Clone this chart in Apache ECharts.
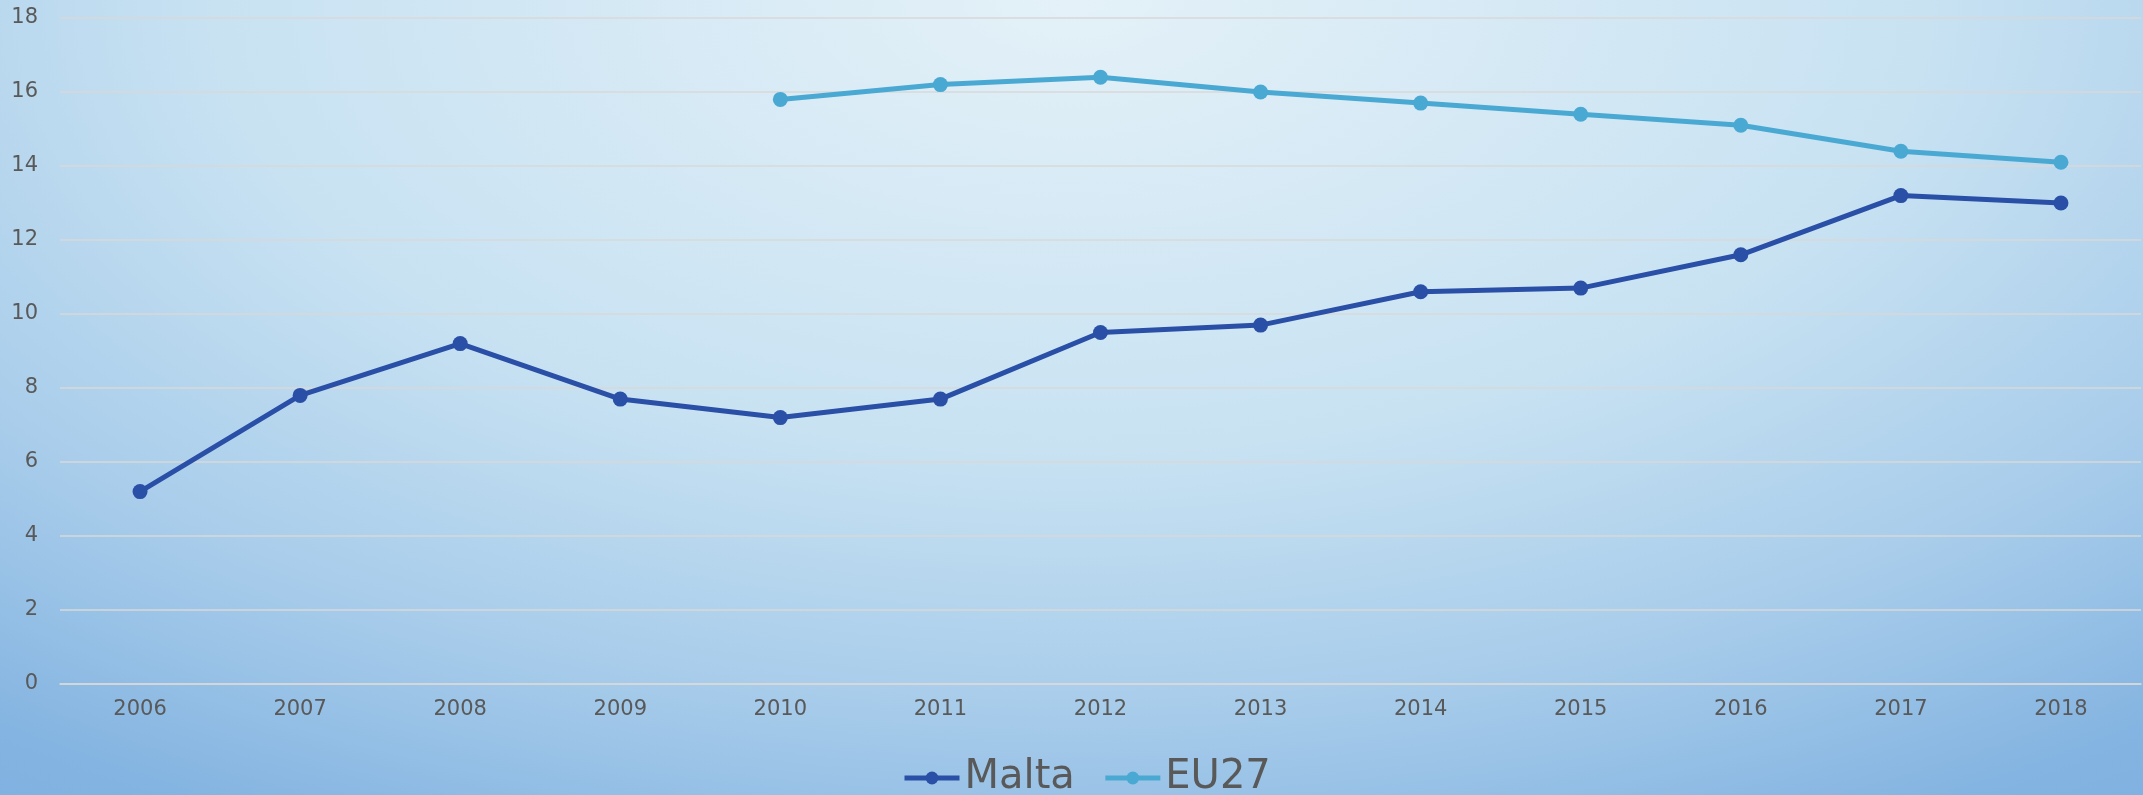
<!DOCTYPE html>
<html>
<head>
<meta charset="utf-8">
<script src="https://cdn.jsdelivr.net/npm/echarts@6/dist/echarts.min.js"></script>
<style>
html,body{margin:0;padding:0;width:2143px;height:795px;overflow:hidden;}
body{background:radial-gradient(ellipse 1900px 1000px at 50% 0%, #e4f1f8 0%, #c8e2f2 45%, #a6cbea 72%, #84b4e1 92%, #7fb0e0 100%);}
#chart{width:2143px;height:795px;}
</style>
</head>
<body>
<div id="chart"></div>
<script>
var years = ['2006','2007','2008','2009','2010','2011','2012','2013','2014','2015','2016','2017','2018'];
var malta = [5.2, 7.8, 9.2, 7.7, 7.2, 7.7, 9.5, 9.7, 10.6, 10.7, 11.6, 13.2, 13.0];
var eu27 = [null, null, null, null, 15.8, 16.2, 16.4, 16.0, 15.7, 15.4, 15.1, 14.4, 14.1];
var seriesNames = ['Malta', 'EU27'];

var chart = echarts.init(document.getElementById('chart'), null, {renderer: 'canvas'});
var font = 'DejaVu Sans';
chart.setOption({
  backgroundColor: 'transparent',
  animation: false,
  textStyle: {fontFamily: font},
  grid: {left: 60, right: 2, top: 18, bottom: 111, containLabel: false},
  legend: {
    data: seriesNames,
    bottom: -8,
    left: 897,
    itemWidth: 55,
    itemHeight: 16,
    itemGap: 28,
    lineStyle: {width: 5},
    textStyle: {fontSize: 40, color: '#595959', fontFamily: font}
  },
  xAxis: {
    type: 'category',
    data: years,
    boundaryGap: true,
    axisLine: {show: true, lineStyle: {color: '#d9d9d9', width: 1.5}},
    axisTick: {show: false},
    axisLabel: {fontSize: 21, color: '#595959', margin: 15, fontFamily: font}
  },
  yAxis: {
    type: 'value',
    min: 0,
    max: 18,
    interval: 2,
    axisLine: {show: false},
    axisTick: {show: false},
    axisLabel: {fontSize: 21, color: '#595959', margin: 22, fontFamily: font},
    splitLine: {lineStyle: {color: '#d9d9d9', width: 1.5}}
  },
  series: [
    {
      name: seriesNames[0],
      type: 'line',
      data: malta,
      symbol: 'circle',
      symbolSize: 15,
      lineStyle: {color: '#2a4fa6', width: 5},
      itemStyle: {color: '#2a4fa6'}
    },
    {
      name: seriesNames[1],
      type: 'line',
      data: eu27,
      connectNulls: false,
      symbol: 'circle',
      symbolSize: 15,
      lineStyle: {color: '#4aa9d3', width: 5},
      itemStyle: {color: '#4aa9d3'}
    }
  ]
});
</script>
</body>
</html>
